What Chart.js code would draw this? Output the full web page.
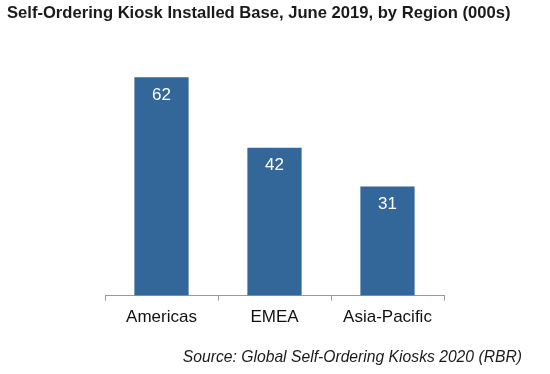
<!DOCTYPE html>
<html>
<head>
<meta charset="utf-8">
<script src="https://cdn.jsdelivr.net/npm/chart.js@4/dist/chart.umd.min.js"></script>
<style>
  html, body { margin: 0; padding: 0; background: #fff; }
  #wrap { width: 550px; height: 374px; }
</style>
</head>
<body>
<div id="wrap"><canvas id="myChart" width="550" height="374"></canvas></div>
<script>
// data
var regions = ['Americas', 'EMEA', 'Asia-Pacific'];
var installedBase = [62, 42, 31];
var chartTitle = 'Self-Ordering Kiosk Installed Base, June 2019, by Region (000s)';
var sourceNote = 'Source: Global Self-Ordering Kiosks 2020 (RBR)';

// title, source line and white numbers inside the bars
var textPlugin = {
    id: 'textPlugin',
    afterDraw: function(chart) {
        var ctx = chart.ctx;
        ctx.save();
        ctx.textBaseline = 'middle';
        ctx.fillStyle = '#1a1a1a';
        ctx.font = 'bold 16.6px "Liberation Sans", Arial, sans-serif';
        ctx.textAlign = 'left';
        ctx.fillText(chartTitle, 7, 13);

        ctx.font = 'italic 15.7px "Liberation Sans", Arial, sans-serif';
        ctx.textAlign = 'right';
        ctx.fillText(sourceNote, 522, 358);

        ctx.fillStyle = '#ffffff';
        ctx.font = '17px "Liberation Sans", Arial, sans-serif';
        ctx.textAlign = 'center';
        var meta = chart.getDatasetMeta(0);
        meta.data.forEach(function(bar, i) {
            ctx.fillText(String(installedBase[i]), bar.x, bar.y + 18);
        });
        ctx.restore();
    }
};

var ctx = document.getElementById('myChart').getContext('2d');
var myChart = new Chart(ctx, {
    type: 'bar',
    data: {
        labels: regions,
        datasets: [{
            data: installedBase,
            backgroundColor: '#336699',
            borderWidth: 0,
            barPercentage: 0.48,
            categoryPercentage: 1
        }]
    },
    options: {
        responsive: false,
        animation: false,
        layout: { padding: { left: 105, right: 106, top: 49, bottom: 39 } },
        plugins: {
            legend: { display: false },
            tooltip: { enabled: false }
        },
        scales: {
            x: {
                grid: { display: true, drawOnChartArea: false, drawTicks: true, tickLength: 5, offset: true, color: '#999999' },
                border: { display: true, color: '#999999', width: 1 },
                ticks: { color: '#111111', padding: 7, font: { family: '"Liberation Sans", Arial, sans-serif', size: 17 } }
            },
            y: {
                display: false,
                min: 0,
                max: 70
            }
        }
    },
    plugins: [textPlugin]
});
</script>
</body>
</html>
